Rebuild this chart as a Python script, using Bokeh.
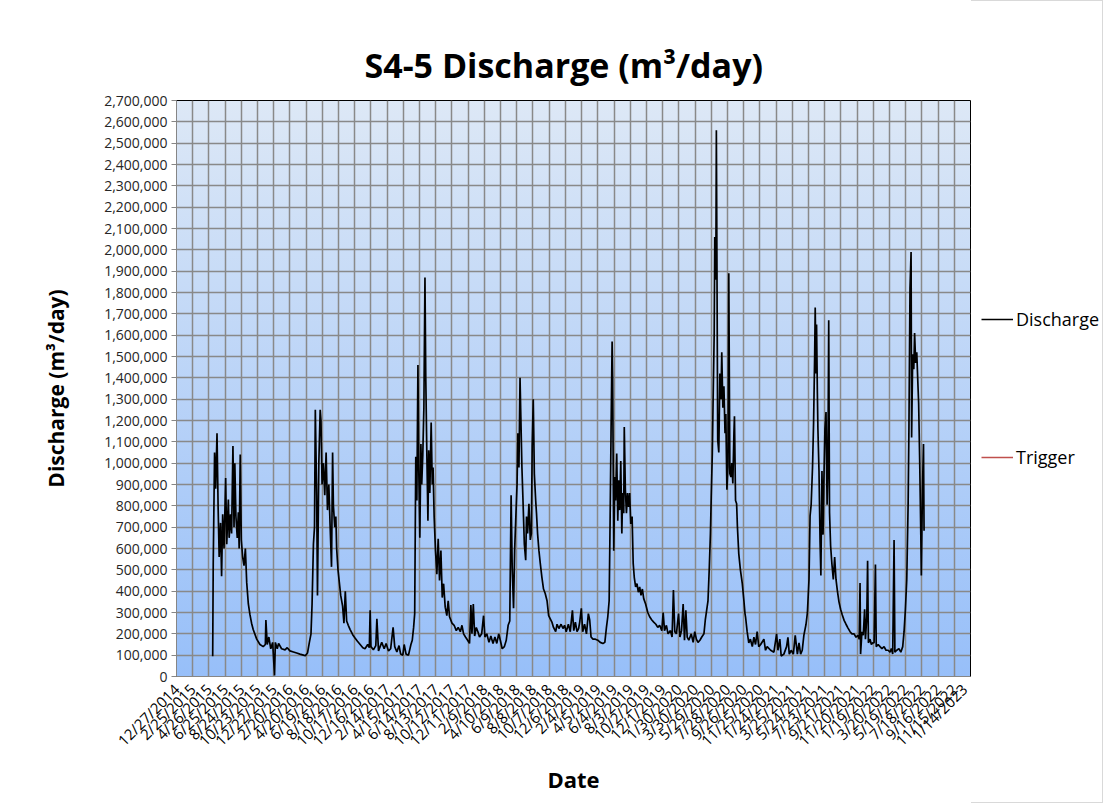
import math
import pandas as pd
from bokeh.plotting import figure
from bokeh.layouts import row
from bokeh.models import Range1d, FixedTicker, NumeralTickFormatter, Legend, LegendItem
from bokeh.embed import file_html
from bokeh.resources import INLINE

# ---------------- data ----------------
tick_labels = [
    "12/27/2014", "2/25/2015", "4/26/2015", "6/25/2015", "8/24/2015", "10/23/2015",
    "12/22/2015", "2/20/2016", "4/20/2016", "6/19/2016", "8/18/2016", "10/17/2016",
    "12/16/2016", "2/14/2017", "4/15/2017", "6/14/2017", "8/13/2017", "10/12/2017",
    "12/11/2017", "2/9/2018", "4/10/2018", "6/9/2018", "8/8/2018", "10/7/2018",
    "12/6/2018", "2/4/2019", "4/5/2019", "6/4/2019", "8/3/2019", "10/2/2019",
    "12/1/2019", "1/30/2020", "3/30/2020", "5/29/2020", "7/28/2020", "9/26/2020",
    "11/25/2020", "1/24/2021", "3/25/2021", "5/24/2021", "7/23/2021", "9/21/2021",
    "11/20/2021", "1/19/2022", "3/20/2022", "5/19/2022", "7/18/2022", "9/16/2022",
    "11/15/2022", "1/14/2023",
]
y_ticks = list(range(0, 2700001, 100000))
series_names = ["Discharge", "Trigger"]
series_colors = ["#000000", "#c0504d"]

dates_2015_16 = [
    "2015-05-10", "2015-05-12", "2015-05-17", "2015-05-21", "2015-05-26", "2015-05-30",
    "2015-06-03", "2015-06-08", "2015-06-12", "2015-06-16", "2015-06-21", "2015-06-27",
    "2015-07-01", "2015-07-07", "2015-07-10", "2015-07-15", "2015-07-19", "2015-07-24",
    "2015-07-28", "2015-07-31", "2015-08-04", "2015-08-09", "2015-08-13", "2015-08-16",
    "2015-08-20", "2015-08-24", "2015-08-29", "2015-09-03", "2015-09-08", "2015-09-13",
    "2015-09-19", "2015-09-25", "2015-10-01", "2015-10-07", "2015-10-20", "2015-11-01",
    "2015-11-13", "2015-11-21", "2015-11-23", "2015-11-28", "2015-12-04", "2015-12-11",
    "2015-12-18", "2015-12-25", "2015-12-28", "2016-01-04", "2016-01-09", "2016-01-20",
    "2016-02-02", "2016-02-10", "2016-02-20", "2016-03-04", "2016-03-16", "2016-03-28",
    "2016-04-10", "2016-04-17", "2016-04-25", "2016-05-02", "2016-05-08", "2016-05-12",
    "2016-05-17", "2016-05-21", "2016-05-24", "2016-05-29", "2016-06-01", "2016-06-06",
    "2016-06-11", "2016-06-14", "2016-06-18", "2016-06-23", "2016-06-28", "2016-07-03",
    "2016-07-08", "2016-07-13", "2016-07-18", "2016-07-23", "2016-07-27", "2016-07-30",
    "2016-08-04", "2016-08-08", "2016-08-11", "2016-08-16", "2016-08-21", "2016-08-26",
    "2016-09-02", "2016-09-07", "2016-09-12", "2016-09-17", "2016-09-23", "2016-09-30",
    "2016-10-10", "2016-10-18", "2016-10-27", "2016-11-06", "2016-11-16", "2016-11-24",
    "2016-12-04", "2016-12-10", "2016-12-13", "2016-12-16", "2016-12-25", "2017-01-03",
    "2017-01-07", "2017-01-13",
]
q_2015_16 = [
    95000, 530000, 1050000, 880000, 1140000, 800000,
    560000, 720000, 470000, 760000, 600000, 930000,
    620000, 830000, 650000, 760000, 670000, 1080000,
    700000, 1000000, 750000, 650000, 770000, 600000,
    1040000, 640000, 560000, 520000, 600000, 440000,
    340000, 290000, 250000, 220000, 175000, 150000,
    140000, 150000, 265000, 150000, 185000, 130000,
    160000, 5000, 160000, 130000, 155000, 130000,
    125000, 135000, 120000, 115000, 110000, 105000,
    100000, 97000, 110000, 160000, 200000, 340000,
    620000, 700000, 1250000, 850000, 380000, 1000000,
    1250000, 1200000, 900000, 1000000, 850000, 1050000,
    780000, 900000, 700000, 514000, 1050000, 800000,
    700000, 750000, 600000, 500000, 440000, 380000,
    330000, 250000, 400000, 260000, 240000, 220000,
    195000, 180000, 165000, 150000, 135000, 130000,
    150000, 135000, 310000, 140000, 125000, 145000,
    270000, 120000,
]

dates_2017_18 = [
    "2017-01-25", "2017-02-03", "2017-02-10", "2017-02-19", "2017-02-27", "2017-03-08",
    "2017-03-14", "2017-03-22", "2017-03-30", "2017-04-05", "2017-04-13", "2017-04-18",
    "2017-04-25", "2017-05-04", "2017-05-13", "2017-05-18", "2017-05-23", "2017-05-27",
    "2017-05-29", "2017-05-31", "2017-06-04", "2017-06-08", "2017-06-11", "2017-06-15",
    "2017-06-19", "2017-06-22", "2017-06-26", "2017-06-30", "2017-07-04", "2017-07-07",
    "2017-07-11", "2017-07-15", "2017-07-18", "2017-07-22", "2017-07-27", "2017-07-31",
    "2017-08-03", "2017-08-07", "2017-08-12", "2017-08-17", "2017-08-22", "2017-08-27",
    "2017-09-01", "2017-09-06", "2017-09-11", "2017-09-17", "2017-09-23", "2017-09-28",
    "2017-10-03", "2017-10-12", "2017-10-20", "2017-10-28", "2017-11-04", "2017-11-12",
    "2017-11-18", "2017-11-24", "2017-12-01", "2017-12-09", "2017-12-16", "2017-12-21",
    "2017-12-25", "2017-12-30", "2018-01-04", "2018-01-10", "2018-01-16", "2018-01-22",
    "2018-01-30", "2018-02-06", "2018-02-11", "2018-02-18", "2018-02-26", "2018-03-05",
    "2018-03-13", "2018-03-20", "2018-03-27", "2018-04-03", "2018-04-09", "2018-04-16",
    "2018-04-24", "2018-05-01", "2018-05-08", "2018-05-14", "2018-05-19", "2018-05-23",
    "2018-05-28", "2018-06-01", "2018-06-05", "2018-06-10", "2018-06-13", "2018-06-17",
    "2018-06-21", "2018-06-24", "2018-06-28", "2018-07-02", "2018-07-07", "2018-07-12",
    "2018-07-15", "2018-07-19", "2018-07-24", "2018-07-29", "2018-08-02", "2018-08-05",
    "2018-08-09", "2018-08-13", "2018-08-18", "2018-08-21", "2018-08-25", "2018-08-30",
    "2018-09-04", "2018-09-10", "2018-09-16", "2018-09-22", "2018-09-29", "2018-10-05",
    "2018-10-11", "2018-10-17", "2018-10-23", "2018-10-31", "2018-11-05", "2018-11-12",
    "2018-11-20", "2018-11-27", "2018-12-03",
]
q_2017_18 = [
    160000, 130000, 155000, 120000, 130000, 230000,
    140000, 115000, 145000, 105000, 100000, 150000,
    105000, 100000, 150000, 170000, 230000, 295000,
    670000, 1030000, 825000, 1460000, 980000, 650000,
    1090000, 900000, 1040000, 1260000, 1870000, 1400000,
    1040000, 730000, 1060000, 860000, 1190000, 900000,
    980000, 750000, 590000, 480000, 645000, 450000,
    590000, 370000, 435000, 325000, 285000, 355000,
    280000, 250000, 240000, 215000, 230000, 210000,
    240000, 200000, 185000, 170000, 155000, 335000,
    200000, 340000, 190000, 230000, 210000, 185000,
    200000, 285000, 185000, 200000, 160000, 190000,
    155000, 185000, 155000, 200000, 170000, 130000,
    140000, 170000, 240000, 260000, 850000, 510000,
    320000, 590000, 730000, 900000, 1140000, 980000,
    1400000, 1220000, 980000, 825000, 620000, 545000,
    750000, 670000, 810000, 640000, 670000, 1080000,
    1300000, 950000, 825000, 765000, 670000, 590000,
    530000, 465000, 410000, 390000, 355000, 285000,
    270000, 255000, 230000, 210000, 245000, 225000,
    245000, 225000, 240000,
]

dates_2019_20 = [
    "2018-12-09", "2018-12-17", "2018-12-24", "2019-01-01", "2019-01-06", "2019-01-12",
    "2019-01-18", "2019-01-24", "2019-01-28", "2019-02-03", "2019-02-08", "2019-02-15",
    "2019-02-22", "2019-03-01", "2019-03-06", "2019-03-11", "2019-03-18", "2019-03-27",
    "2019-04-05", "2019-04-14", "2019-04-24", "2019-05-01", "2019-05-07", "2019-05-12",
    "2019-05-17", "2019-05-20", "2019-05-24", "2019-05-28", "2019-05-30", "2019-06-03",
    "2019-06-07", "2019-06-10", "2019-06-14", "2019-06-18", "2019-06-21", "2019-06-25",
    "2019-06-29", "2019-07-03", "2019-07-06", "2019-07-10", "2019-07-12", "2019-07-16",
    "2019-07-20", "2019-07-24", "2019-07-28", "2019-08-01", "2019-08-05", "2019-08-10",
    "2019-08-14", "2019-08-18", "2019-08-23", "2019-08-28", "2019-09-02", "2019-09-07",
    "2019-09-12", "2019-09-17", "2019-09-22", "2019-09-29", "2019-10-07", "2019-10-14",
    "2019-10-22", "2019-10-29", "2019-11-06", "2019-11-13", "2019-11-20", "2019-11-28",
    "2019-12-03", "2019-12-08", "2019-12-15", "2019-12-21", "2019-12-30", "2020-01-05",
    "2020-01-10", "2020-01-15", "2020-01-21", "2020-01-29", "2020-02-03", "2020-02-09",
    "2020-02-15", "2020-02-20", "2020-02-25", "2020-03-01", "2020-03-07", "2020-03-16",
    "2020-03-23", "2020-03-29", "2020-04-04", "2020-04-10", "2020-04-17", "2020-04-24",
    "2020-05-02", "2020-05-07", "2020-05-12", "2020-05-17", "2020-05-22", "2020-05-26",
    "2020-05-29", "2020-06-02", "2020-06-05", "2020-06-09", "2020-06-11", "2020-06-15",
    "2020-06-17", "2020-06-22", "2020-06-26", "2020-06-30", "2020-07-04", "2020-07-07",
    "2020-07-11", "2020-07-15", "2020-07-19", "2020-07-22", "2020-07-26", "2020-07-30",
    "2020-08-02", "2020-08-06", "2020-08-10", "2020-08-13", "2020-08-17", "2020-08-21",
    "2020-08-23", "2020-08-27", "2020-08-31", "2020-09-03", "2020-09-08", "2020-09-14",
    "2020-09-21", "2020-09-27", "2020-10-01",
]
q_2019_20 = [
    210000, 245000, 210000, 310000, 215000, 255000,
    210000, 225000, 255000, 320000, 210000, 245000,
    200000, 295000, 265000, 185000, 175000, 175000,
    170000, 160000, 155000, 160000, 230000, 280000,
    355000, 670000, 1140000, 1570000, 1390000, 590000,
    935000, 825000, 1045000, 730000, 920000, 780000,
    1010000, 670000, 860000, 765000, 1170000, 875000,
    765000, 860000, 795000, 860000, 715000, 750000,
    530000, 465000, 420000, 435000, 395000, 420000,
    380000, 410000, 365000, 340000, 300000, 280000,
    265000, 255000, 245000, 230000, 240000, 215000,
    300000, 215000, 240000, 200000, 215000, 185000,
    405000, 210000, 200000, 295000, 185000, 215000,
    340000, 170000, 310000, 185000, 170000, 200000,
    160000, 210000, 175000, 160000, 170000, 185000,
    200000, 265000, 310000, 355000, 515000, 670000,
    840000, 1045000, 1300000, 1610000, 2060000, 1860000,
    2560000, 1110000, 1050000, 1420000, 1300000, 1520000,
    1260000, 1360000, 1140000, 1230000, 875000, 985000,
    1890000, 950000, 935000, 1000000, 905000, 1140000,
    1220000, 825000, 810000, 700000, 575000, 500000,
    435000, 355000, 295000,
]

dates_2021_22 = [
    "2020-10-03", "2020-10-09", "2020-10-15", "2020-10-21", "2020-10-28", "2020-11-03",
    "2020-11-09", "2020-11-15", "2020-11-21", "2020-11-28", "2020-12-10", "2020-12-16",
    "2020-12-22", "2021-01-04", "2021-01-16", "2021-01-26", "2021-01-31", "2021-02-07",
    "2021-02-12", "2021-02-22", "2021-03-04", "2021-03-09", "2021-03-14", "2021-03-21",
    "2021-03-29", "2021-04-05", "2021-04-13", "2021-04-19", "2021-04-25", "2021-05-01",
    "2021-05-07", "2021-05-15", "2021-05-20", "2021-05-26", "2021-05-30", "2021-06-03",
    "2021-06-08", "2021-06-12", "2021-06-16", "2021-06-18", "2021-06-21", "2021-06-23",
    "2021-06-26", "2021-06-28", "2021-07-02", "2021-07-06", "2021-07-09", "2021-07-13",
    "2021-07-17", "2021-07-20", "2021-07-24", "2021-07-28", "2021-08-01", "2021-08-04",
    "2021-08-07", "2021-08-10", "2021-08-14", "2021-08-19", "2021-08-24", "2021-08-29",
    "2021-09-03", "2021-09-08", "2021-09-14", "2021-09-20", "2021-09-26", "2021-10-03",
    "2021-10-10", "2021-10-17", "2021-10-25", "2021-11-01", "2021-11-09", "2021-11-16",
    "2021-11-23", "2021-11-28", "2021-12-01", "2021-12-03", "2021-12-08", "2021-12-13",
    "2021-12-18", "2021-12-21", "2021-12-26", "2021-12-29", "2022-01-01", "2022-01-07",
    "2022-01-12", "2022-01-17", "2022-01-22", "2022-01-27", "2022-01-30", "2022-02-06",
    "2022-02-13", "2022-02-20", "2022-02-28", "2022-03-07", "2022-03-15", "2022-03-22",
    "2022-03-27", "2022-04-01", "2022-04-06", "2022-04-09", "2022-04-16", "2022-04-24",
    "2022-05-01", "2022-05-08", "2022-05-13", "2022-05-18", "2022-05-23", "2022-05-28",
    "2022-05-31", "2022-06-04", "2022-06-08", "2022-06-10", "2022-06-14", "2022-06-18",
    "2022-06-21", "2022-06-25", "2022-06-29", "2022-07-03", "2022-07-06", "2022-07-10",
    "2022-07-14", "2022-07-16", "2022-07-20", "2022-07-24", "2022-07-26",
]
q_2021_22 = [
    280000, 210000, 158000, 175000, 140000, 184000,
    150000, 210000, 140000, 150000, 175000, 123000,
    140000, 123000, 114000, 200000, 123000, 175000,
    96000, 105000, 140000, 184000, 105000, 123000,
    105000, 193000, 105000, 158000, 105000, 123000,
    193000, 245000, 298000, 455000, 753000, 805000,
    980000, 1190000, 1510000, 1730000, 1420000, 1650000,
    1330000, 1160000, 963000, 630000, 473000, 963000,
    665000, 910000, 1160000, 1240000, 805000, 980000,
    1670000, 770000, 613000, 525000, 455000, 560000,
    455000, 403000, 350000, 315000, 289000, 263000,
    245000, 228000, 210000, 200000, 200000, 184000,
    193000, 175000, 438000, 105000, 210000, 193000,
    315000, 175000, 280000, 543000, 158000, 175000,
    150000, 158000, 158000, 525000, 140000, 150000,
    140000, 131000, 140000, 123000, 123000, 114000,
    131000, 105000, 640000, 114000, 123000, 131000,
    114000, 140000, 210000, 315000, 455000, 805000,
    1160000, 1820000, 1990000, 1120000, 1510000, 1440000,
    1610000, 1470000, 1520000, 1380000, 1280000, 1000000,
    665000, 473000, 875000, 1090000, 683000,
]

# the Trigger series has no plotted values in the chart
trigger_dates = ["2015-05-10"]
trigger_q = [float("nan")]

# ---------------- build ----------------
origin = pd.Timestamp("2014-12-27")
all_dates = dates_2015_16 + dates_2017_18 + dates_2019_20 + dates_2021_22
all_q = q_2015_16 + q_2017_18 + q_2019_20 + q_2021_22
x_days = [int((pd.Timestamp(d) - origin).days) for d in all_dates]
tick_days = [int((pd.to_datetime(s, format="%m/%d/%Y") - origin).days) for s in tick_labels]
trig_days = [int((pd.Timestamp(d) - origin).days) for d in trigger_dates]

FONT = "Open Sans"

p = figure(
    width=971, height=803,
    output_backend="svg", toolbar_location=None,
    x_range=Range1d(tick_days[0], tick_days[-1]),
    y_range=Range1d(y_ticks[0], y_ticks[-1]),
    min_border_left=176, min_border_right=1,
    min_border_top=100, min_border_bottom=127,
    title="S4-5 Discharge (m³/day)",
)

# transparent canvas, gradient plot area drawn by CSS behind it
p.background_fill_alpha = 0
p.border_fill_alpha = 0
p.styles = {
    "background": "linear-gradient(#dde8f6, #97bff9) 176px 100px / 794px 576px no-repeat, #ffffff",
}
p.outline_line_color = "#000000"
p.outline_line_width = 1

p.title.text_font = FONT
p.title.text_font_size = "34px"
p.title.text_font_style = "bold"
p.title.text_color = "#000000"
p.title.align = "left"
p.title.offset = 188
p.title.standoff = 26

# axes
p.xaxis.ticker = FixedTicker(ticks=tick_days)
p.xaxis.major_label_overrides = {t: s for t, s in zip(tick_days, tick_labels)}
p.xaxis.major_label_orientation = math.pi / 4
p.xaxis.minor_tick_line_color = None
p.xaxis.major_tick_out = 0
p.xaxis.major_tick_in = 0
p.xaxis.major_label_standoff = 10
p.xaxis.axis_line_color = "#868686"
p.xaxis.major_label_text_font = FONT
p.xaxis.major_label_text_font_size = "15px"
p.xaxis.major_label_text_color = "#000000"
p.xaxis.axis_label = "Date"
p.xaxis.axis_label_text_font = FONT
p.xaxis.axis_label_text_font_size = "22px"
p.xaxis.axis_label_text_font_style = "bold"
p.xaxis.axis_label_text_color = "#000000"
p.xaxis.axis_label_standoff = 4

p.yaxis.ticker = FixedTicker(ticks=y_ticks)
p.yaxis.formatter = NumeralTickFormatter(format="0,0")
p.yaxis.minor_tick_line_color = None
p.yaxis.major_tick_out = 5
p.yaxis.major_tick_in = 0
p.yaxis.major_tick_line_color = "#868686"
p.yaxis.axis_line_color = "#868686"
p.yaxis.major_label_text_font = FONT
p.yaxis.major_label_text_font_size = "14px"
p.yaxis.major_label_text_color = "#262626"
p.yaxis.major_label_standoff = 4
p.yaxis.axis_label = "Discharge (m³/day)"
p.yaxis.axis_label_text_font = FONT
p.yaxis.axis_label_text_font_size = "21px"
p.yaxis.axis_label_text_font_style = "bold"
p.yaxis.axis_label_text_color = "#000000"
p.yaxis.axis_label_standoff = 31

# grid
for g in (p.xgrid, p.ygrid):
    g.grid_line_color = "#898989"
    g.grid_line_width = 1.5
p.xgrid.ticker = FixedTicker(ticks=tick_days)
p.ygrid.ticker = FixedTicker(ticks=y_ticks)

# series
p.line(x_days, all_q, line_color=series_colors[0], line_width=1.7)
p.line(trig_days, trigger_q, line_color=series_colors[1], line_width=1.5)

# ---------------- legend panel (right of the plot area) ----------------
leg = figure(
    width=132, height=803,
    output_backend="svg", toolbar_location=None,
    x_axis_location=None, y_axis_location=None,
    min_border_left=0, min_border_right=0,
    min_border_top=100, min_border_bottom=127,
)
leg.grid.visible = False
leg.outline_line_color = None
leg.background_fill_alpha = 0
leg.border_fill_alpha = 0
proxies = [
    leg.line(trig_days, trigger_q, line_color=c, line_width=1.5)
    for c in series_colors
]
legend = Legend(
    items=[LegendItem(label=n, renderers=[r]) for n, r in zip(series_names, proxies)],
    location=(10, 207),
    orientation="vertical",
    glyph_width=32, glyph_height=20, label_height=20,
    spacing=114, padding=0, margin=0, label_standoff=3,
    label_text_font=FONT, label_text_font_size="18px", label_text_color="#000000",
    border_line_alpha=0, background_fill_alpha=0,
)
leg.add_layout(legend, "center")

layout = row(p, leg, spacing=0)
layout.styles = {"outline": "1px solid #d9d9d9", "outline-offset": "-1px",
                 "background": "#ffffff"}

open("out.html", "w").write(file_html(layout, INLINE))
